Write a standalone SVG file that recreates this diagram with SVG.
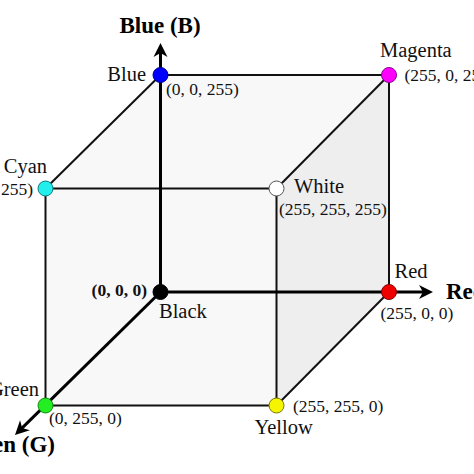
<svg xmlns="http://www.w3.org/2000/svg" width="474" height="474" viewBox="0 0 474 474">
<defs>
<style>
.lbl{font-family:"Liberation Serif","Times New Roman",serif;font-size:20.5px;fill:#111}
.crd{font-family:"Liberation Serif","Times New Roman",serif;font-size:17.5px;fill:#111}
.ax{font-family:"Liberation Serif","Times New Roman",serif;font-size:23px;font-weight:bold;fill:#000}
.edge{stroke:#111;stroke-width:2;fill:none}
.axis{stroke:#000;stroke-width:3;fill:none}
.node{stroke-width:1}
</style>
<marker id="arr" markerUnits="userSpaceOnUse" markerWidth="16" markerHeight="16" viewBox="-7 -8 16 16" refX="0" refY="0" orient="auto">
<path d="M8,0 L-6,-7 L-2,0 L-6,7 Z" fill="#000"/>
</marker>
</defs>
<rect width="474" height="474" fill="#fff"/>
<g id="faces">
<path d="M160.5,75 L389,75 L389,292 L276.5,405.5 L45.5,405.5 L45.5,188.5 Z" fill="#f8f8f8"/>
<path d="M389,75 L389,292 L276.5,405.5 L276.5,188.5 Z" fill="#eeeeee"/>
</g>
<g id="connectors">
<line class="edge" x1="160.5" y1="75" x2="389" y2="75"/>
<line class="edge" x1="389" y1="75" x2="389" y2="292"/>
<line class="edge" x1="45.5" y1="188.5" x2="276.5" y2="188.5"/>
<line class="edge" x1="276.5" y1="188.5" x2="276.5" y2="405.5"/>
<line class="edge" x1="45.5" y1="188.5" x2="45.5" y2="405.5"/>
<line class="edge" x1="45.5" y1="405.5" x2="276.5" y2="405.5"/>
<line class="edge" x1="160.5" y1="75" x2="45.5" y2="188.5"/>
<line class="edge" x1="389" y1="75" x2="276.5" y2="188.5"/>
<line class="edge" x1="389" y1="292" x2="276.5" y2="405.5"/>
<line class="axis" x1="160.5" y1="292" x2="160.5" y2="51" marker-end="url(#arr)"/>
<line class="axis" x1="160.5" y1="292" x2="425" y2="292" marker-end="url(#arr)"/>
<line class="axis" x1="160.5" y1="292" x2="20.7" y2="429.4" marker-end="url(#arr)"/>
</g>
<g id="axis-labels">
<text class="ax" x="160" y="33" text-anchor="middle">Blue (B)</text>
<text class="ax" x="446" y="299">Red (R)</text>
<text class="ax" x="55" y="452" text-anchor="end">Green (G)</text>
</g>
<g id="node-blue">
<circle class="node" cx="160.5" cy="75" r="7.5" fill="#0000ff" stroke="#00008a"/>
<text class="lbl" x="146" y="81" text-anchor="end">Blue</text>
<text class="crd" x="166" y="95">(0, 0, 255)</text>
</g>
<g id="node-magenta">
<circle class="node" cx="389" cy="75" r="7.5" fill="#ff00ff" stroke="#8a008a"/>
<text class="lbl" x="380" y="57">Magenta</text>
<text class="crd" x="404.5" y="81">(255, 0, 255)</text>
</g>
<g id="node-cyan">
<circle class="node" cx="45.5" cy="188.5" r="7.5" fill="#22eeee" stroke="#117777"/>
<text class="lbl" x="47" y="173" text-anchor="end">Cyan</text>
<text class="crd" x="33" y="195" text-anchor="end">(0, 255, 255)</text>
</g>
<g id="node-white">
<circle class="node" cx="276.5" cy="188.5" r="7.5" fill="#ffffff" stroke="#555"/>
<text class="lbl" x="294" y="193">White</text>
<text class="crd" x="279" y="215">(255, 255, 255)</text>
</g>
<g id="node-black">
<circle class="node" cx="160.5" cy="292" r="7.5" fill="#000" stroke="#000"/>
<text class="crd" x="147" y="296" text-anchor="end" font-weight="bold" font-size="17">(0, 0, 0)</text>
<text class="lbl" x="159" y="317.5">Black</text>
</g>
<g id="node-red">
<circle class="node" cx="389" cy="292" r="7.5" fill="#ee0000" stroke="#880000"/>
<text class="lbl" x="394.5" y="277.5">Red</text>
<text class="crd" x="380.5" y="318.5">(255, 0, 0)</text>
</g>
<g id="node-green">
<circle class="node" cx="45.5" cy="405.5" r="7.5" fill="#22ee22" stroke="#118811"/>
<text class="lbl" x="39" y="395.5" text-anchor="end">Green</text>
<text class="crd" x="49" y="424">(0, 255, 0)</text>
</g>
<g id="node-yellow">
<circle class="node" cx="276.5" cy="405.5" r="7.5" fill="#f5f500" stroke="#777700"/>
<text class="crd" x="293" y="412">(255, 255, 0)</text>
<text class="lbl" x="254.5" y="434">Yellow</text>
</g>
</svg>
